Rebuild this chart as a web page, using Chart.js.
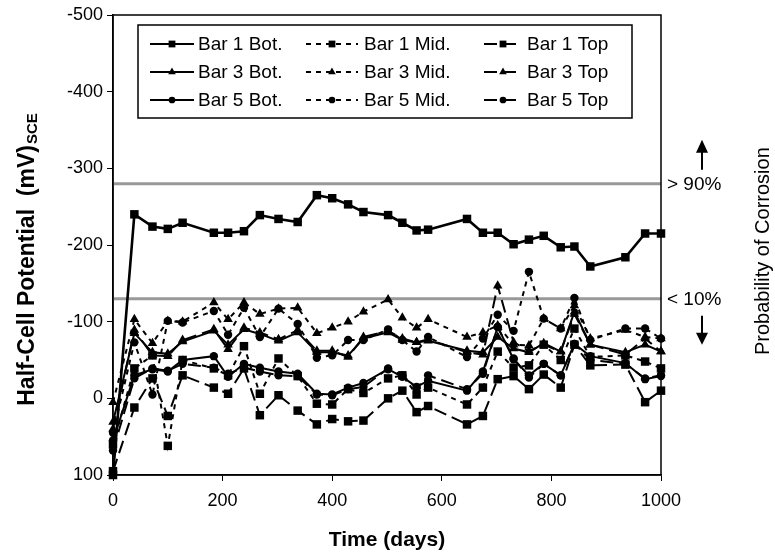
<!DOCTYPE html>
<html>
<head>
<meta charset="utf-8">
<script src="https://cdn.jsdelivr.net/npm/chart.js@4.4.1/dist/chart.umd.min.js"></script>
<style>
  html, body { margin: 0; padding: 0; background: #fff; }
  #wrap { width: 775px; height: 558px; }
</style>
</head>
<body>
<div id="wrap"><canvas id="chart" width="775" height="558"></canvas></div>
<script>
// measurement days
var days = [0, 39, 72, 100, 127, 184, 210, 239, 268, 302, 337, 372, 400, 429, 457, 502, 528, 554, 575, 646, 675, 702, 731, 759, 786, 817, 842, 871, 935, 971, 1000];

// half-cell potentials (mV SCE)
var bar1Bot = [100, -240, -224, -221, -229, -216, -216, -218, -239, -234, -230, -265, -261, -253, -243, -239, -229, -219, -220, -234, -216, -216, -201, -207, -212, -197, -198, -172, -184, -215, -215];
var bar1Mid = [60, -39, -56, 62, -50, -39, -30, -68, -6, -52, -29, 7, 8, -12, -7, -26, -30, -5, -14, 8, -14, -61, -40, -43, -70, -50, -91, -54, -56, -48, -39];
var bar1Top = [95, 12, -26, 23, -30, -14, -6, -39, 22, -4, 16, 34, 27, 30, 29, 0, -10, 18, 10, 34, 23, -25, -29, -12, -31, -14, -70, -43, -44, 5, -10];
var bar3Bot = [31, -85, -60, -58, -74, -88, -70, -90, -84, -75, -86, -60, -60, -56, -78, -86, -76, -73, -75, -62, -60, -80, -65, -60, -72, -61, -113, -70, -60, -70, -61];
var bar3Mid = [5, -103, -72, -101, -100, -125, -103, -125, -110, -117, -118, -85, -92, -100, -113, -129, -105, -92, -103, -80, -86, -95, -70, -69, -104, -91, -121, -78, -89, -80, -78];
var bar3Top = [40, -89, -56, -55, -76, -90, -64, -92, -86, -77, -89, -62, -62, -54, -80, -88, -78, -73, -77, -60, -57, -147, -73, -62, -70, -61, -110, -70, -57, -78, -61];
var bar5Bot = [55, -30, -38, -35, -50, -55, -28, -45, -40, -35, -32, -6, -5, -14, -20, -38, -28, -15, -23, -10, -35, -93, -51, -30, -45, -30, -71, -55, -46, -25, -29];
var bar5Mid = [45, -73, -5, -101, -99, -114, -83, -118, -80, -117, -97, -53, -56, -76, -76, -90, -76, -61, -80, -54, -78, -109, -88, -165, -104, -91, -131, -76, -91, -91, -78];
var bar5Top = [68, -26, -39, -36, -45, -40, -32, -40, -35, -30, -29, -5, -4, -12, -15, -39, -30, -13, -30, -12, -32, -93, -52, -27, -45, -30, -71, -50, -45, -26, -30];

// corrosion probability limits
var thresholds = [-280, -130];
var thresholdLabels = ['> 90%', '< 10%'];

var xTicks = [0, 200, 400, 600, 800, 1000];
var yTicks = [-500, -400, -300, -200, -100, 0, 100];

var FONT = '"Liberation Sans", Arial, sans-serif';

var solid = [];
var shortDash = [5, 5];
var longDash = [13, 6];
var sizes = { rect: 6, triangle: 5.5, circle: 4.2 };

function series(label, values, shape, dash, width) {
    return {
        label: label,
        data: days.map(function(d, i) { return { x: d, y: values[i] }; }),
        borderColor: '#000',
        backgroundColor: '#000',
        borderWidth: width || 2,
        borderDash: dash,
        pointStyle: shape,
        pointRadius: sizes[shape],
        pointBorderWidth: 0,
        pointBackgroundColor: '#000',
        tension: 0,
        fill: false,
        clip: false,
        order: 1
    };
}

var datasets = [
    series('Bar 1 Bot.', bar1Bot, 'rect', solid, 2.6),
    series('Bar 1 Mid.', bar1Mid, 'rect', shortDash),
    series('Bar 1 Top', bar1Top, 'rect', longDash),
    series('Bar 3 Bot.', bar3Bot, 'triangle', solid),
    series('Bar 3 Mid.', bar3Mid, 'triangle', shortDash),
    series('Bar 3 Top', bar3Top, 'triangle', longDash),
    series('Bar 5 Bot.', bar5Bot, 'circle', solid),
    series('Bar 5 Mid.', bar5Mid, 'circle', shortDash),
    series('Bar 5 Top', bar5Top, 'circle', longDash)
];

thresholds.forEach(function(t) {
    datasets.push({
        label: 'limit',
        data: [{ x: 0, y: t }, { x: 1000, y: t }],
        borderColor: '#999',
        borderWidth: 3,
        pointRadius: 0,
        fill: false,
        order: 10
    });
});

// legend, frame, titles and the corrosion notes
var decor = {
    id: 'decor',
    afterDraw: function(chart) {
        var ctx = chart.ctx;
        var a = chart.chartArea;
        var ys = chart.scales.y;
        ctx.save();

        ctx.strokeStyle = '#000';
        ctx.lineWidth = 1.5;
        ctx.strokeRect(a.left, a.top, a.right - a.left, a.bottom - a.top);

        // legend box
        var bx = 138, by = 25, bw = 494, bh = 93;
        ctx.fillStyle = '#fff';
        ctx.fillRect(bx, by, bw, bh);
        ctx.lineWidth = 1.5;
        ctx.strokeRect(bx, by, bw, bh);
        var cols = [{ s0: 150, s1: 194, t: 198 }, { s0: 306, s1: 358, t: 364 }, { s0: 484, s1: 522, t: 527 }];
        var rows = [44, 72, 100];
        ctx.font = '19px ' + FONT;
        ctx.textBaseline = 'middle';
        ctx.textAlign = 'left';
        for (var i = 0; i < 9; i++) {
            var ds = chart.data.datasets[i];
            var c = cols[i % 3];
            var y = rows[Math.floor(i / 3)];
            ctx.beginPath();
            ctx.setLineDash(ds.borderDash);
            ctx.lineWidth = 2;
            ctx.strokeStyle = '#000';
            ctx.moveTo(c.s0, y);
            ctx.lineTo(c.s1, y);
            ctx.stroke();
            ctx.setLineDash([]);
            ctx.fillStyle = '#000';
            Chart.helpers.drawPoint(ctx, { pointStyle: ds.pointStyle, radius: ds.pointRadius * 0.8, rotation: 0, borderWidth: 0 }, (c.s0 + c.s1) / 2, y);
            ctx.fillStyle = '#000';
            ctx.fillText(ds.label, c.t, y + 1);
        }

        // y title with subscript
        ctx.save();
        ctx.translate(26, 260);
        ctx.rotate(-Math.PI / 2);
        var main = 'Half-Cell Potential  (mV)';
        ctx.font = 'bold 23px ' + FONT;
        var w1 = ctx.measureText(main).width;
        ctx.font = 'bold 15px ' + FONT;
        var w2 = ctx.measureText('SCE').width;
        var x0 = -(w1 + w2) / 2;
        ctx.textAlign = 'left';
        ctx.textBaseline = 'alphabetic';
        ctx.font = 'bold 23px ' + FONT;
        ctx.fillText(main, x0, 8);
        ctx.font = 'bold 15px ' + FONT;
        ctx.fillText('SCE', x0 + w1 + 1, 11);
        ctx.restore();

        // x title
        ctx.font = 'bold 21px ' + FONT;
        ctx.textAlign = 'center';
        ctx.textBaseline = 'middle';
        ctx.fillText('Time (days)', (a.left + a.right) / 2, 540);

        // limit labels and arrows
        ctx.font = '19px ' + FONT;
        ctx.textAlign = 'left';
        thresholds.forEach(function(t, k) {
            ctx.fillText(thresholdLabels[k], 667, ys.getPixelForValue(t) + 1);
        });
        var ax = 702;
        var yHi = ys.getPixelForValue(thresholds[0]);
        var yLo = ys.getPixelForValue(thresholds[1]);
        ctx.lineWidth = 2;
        ctx.beginPath();
        ctx.moveTo(ax, yHi - 14);
        ctx.lineTo(ax, yHi - 34);
        ctx.moveTo(ax, yLo + 17);
        ctx.lineTo(ax, yLo + 37);
        ctx.stroke();
        ctx.beginPath();
        ctx.moveTo(ax, yHi - 44);
        ctx.lineTo(ax - 6, yHi - 31);
        ctx.lineTo(ax + 6, yHi - 31);
        ctx.closePath();
        ctx.moveTo(ax, yLo + 46);
        ctx.lineTo(ax - 6, yLo + 34);
        ctx.lineTo(ax + 6, yLo + 34);
        ctx.closePath();
        ctx.fill();

        ctx.save();
        ctx.translate(763, (yHi + yLo) / 2 + 10);
        ctx.rotate(-Math.PI / 2);
        ctx.textAlign = 'center';
        ctx.textBaseline = 'middle';
        ctx.font = '20px ' + FONT;
        ctx.fillText('Probability of Corrosion', 0, 0);
        ctx.restore();

        ctx.restore();
    }
};

new Chart(document.getElementById('chart'), {
    type: 'line',
    data: { datasets: datasets },
    options: {
        responsive: false,
        animation: false,
        events: [],
        layout: { padding: { left: 0, right: 114, top: 15, bottom: 0 } },
        plugins: { legend: { display: false }, tooltip: { enabled: false } },
        scales: {
            x: {
                type: 'linear',
                min: 0,
                max: 1000,
                afterFit: function(scale) { scale.height = 83; },
                afterBuildTicks: function(scale) { scale.ticks = xTicks.map(function(v) { return { value: v }; }); },
                ticks: {
                    color: '#000',
                    font: { size: 18, family: FONT },
                    padding: 9,
                    maxRotation: 0,
                    callback: function(v) { return String(v); }
                },
                grid: { drawOnChartArea: false, drawTicks: true, tickLength: 6, color: '#000', tickColor: '#000' },
                border: { display: true, color: '#000', width: 1.5 }
            },
            y: {
                type: 'linear',
                min: -500,
                max: 100,
                reverse: true,
                afterFit: function(scale) { scale.width = 113; },
                afterBuildTicks: function(scale) { scale.ticks = yTicks.map(function(v) { return { value: v }; }); },
                ticks: {
                    color: '#000',
                    font: { size: 18, family: FONT },
                    padding: 4,
                    callback: function(v) { return String(v); }
                },
                grid: { drawOnChartArea: false, drawTicks: true, tickLength: 6, color: '#000', tickColor: '#000' },
                border: { display: true, color: '#000', width: 1.5 }
            }
        }
    },
    plugins: [decor]
});
</script>
</body>
</html>
